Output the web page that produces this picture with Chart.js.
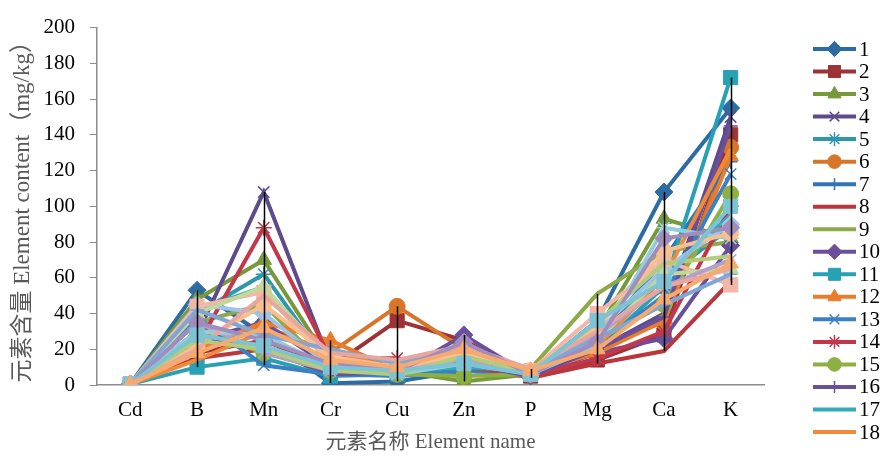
<!DOCTYPE html>
<html>
<head>
<meta charset="utf-8">
<script src="https://cdn.jsdelivr.net/npm/chart.js@4.4.1/dist/chart.umd.min.js"></script>
<style>
  html, body { margin: 0; padding: 0; background: #fff; }
</style>
</head>
<body>
<canvas id="elementChart" width="888" height="456"></canvas>
<script>
const elements = ['Cd', 'B', 'Mn', 'Cr', 'Cu', 'Zn', 'P', 'Mg', 'Ca', 'K'];
const yTicks = [0, 20, 40, 60, 80, 100, 120, 140, 160, 180, 200];

// element content per sample (mg/kg)
const s1  = [0.5, 53, 28, 1, 2, 8, 6, 36, 108, 155];
const s2  = [0.5, 18, 25, 10, 36, 25, 5, 14, 28, 140];
const s3  = [0.5, 48, 70, 12, 8, 2, 6, 30, 93, 82];
const s4  = [0.5, 28, 108, 12, 8, 22, 5, 20, 40, 150];
const s5  = [0.5, 40, 62, 10, 8, 10, 7, 28, 60, 88];
const s6  = [0.5, 22, 33, 18, 44, 20, 6, 22, 35, 133];
const s7  = [0.5, 30, 20, 8, 5, 12, 6, 25, 70, 125];
const s8  = [0.5, 15, 20, 6, 10, 12, 4, 12, 19, 58];
const s9  = [0.5, 35, 45, 8, 8, 15, 9, 51, 75, 80];
const s10 = [0.5, 25, 35, 10, 6, 28, 5, 18, 26, 78];
const s11 = [0.5, 10, 15, 5, 6, 10, 6, 20, 55, 172];
const s12 = [0.5, 20, 35, 25, 8, 12, 7, 18, 36, 128];
const s13 = [0.5, 38, 11, 6, 5, 8, 6, 22, 50, 118];
const s14 = [0.5, 22, 88, 15, 15, 10, 5, 15, 30, 100];
const s15 = [0.5, 30, 18, 8, 6, 5, 6, 25, 45, 107];
const s16 = [0.5, 26, 22, 6, 7, 12, 5, 20, 38, 145];
const s17 = [0.5, 42, 55, 12, 8, 10, 8, 26, 62, 95];
const s18 = [0.5, 14, 30, 20, 8, 18, 7, 22, 60, 132];
// samples past 18 (their legend entries fall outside the picture)
const s19 = [0.5, 45, 40, 10, 8, 15, 7, 30, 65, 90];
const s20 = [0.5, 44, 52, 12, 8, 18, 8, 40, 70, 56];
const s21 = [0.5, 40, 55, 14, 10, 20, 7, 25, 62, 65];
const s22 = [0.5, 35, 18, 8, 7, 15, 6, 28, 55, 70];
const s23 = [0.5, 30, 28, 10, 6, 12, 6, 22, 88, 82];
const s24 = [0.5, 22, 45, 16, 10, 18, 8, 32, 75, 85];
const s25 = [0.5, 42, 28, 20, 12, 20, 8, 26, 45, 62];
const s26 = [0.5, 20, 50, 18, 14, 22, 9, 30, 55, 65];
const s27 = [0.5, 25, 20, 8, 6, 16, 7, 35, 68, 72];
const s28 = [0.5, 35, 25, 12, 8, 24, 6, 24, 82, 88];
const s29 = [0.5, 28, 22, 10, 8, 12, 6, 36, 58, 100];
const s30 = [0.5, 18, 32, 14, 10, 20, 8, 20, 48, 68];

const seriesValues = [s1, s2, s3, s4, s5, s6, s7, s8, s9, s10, s11, s12, s13, s14, s15,
  s16, s17, s18, s19, s20, s21, s22, s23, s24, s25, s26, s27, s28, s29, s30];
const seriesNames = seriesValues.map((s, i) => String(i + 1));
const legendCount = 18;

const seriesColors = [
  '#2D6CA2', '#9E3336', '#77993C', '#5E4B8C', '#2E97AE', '#D8752A',
  '#2F75B5', '#B8363C', '#8DAA48', '#6A4F9A', '#29A1B4', '#EA7C2C',
  '#3A80C4', '#C3374B', '#8DB043', '#6A4F9A', '#35A8BA', '#F08A3A',
  '#9DC3E6', '#F4B6A6', '#C4D79B', '#B1A0C7', '#92CDDC', '#FABF8F',
  '#7FA7D5', '#E8A6A0', '#B2CC7A', '#A08DBE', '#7DC3D6', '#F8A970'
];
// Excel-style marker cycle: diamond, square, triangle, x, star, circle, plus, none, none
const markerCycle = ['rectRot', 'rect', 'triangle', 'crossRot', 'star', 'circle', 'cross', null, null];
const markerSize = { rectRot: 9, rect: 10, triangle: 9, crossRot: 8, star: 8, circle: 8, cross: 7 };

const serif = '"Liberation Serif", "Times New Roman", "Noto Sans CJK SC", serif';

const datasets = seriesValues.map((vals, i) => {
  const style = markerCycle[i % markerCycle.length];
  return {
    label: seriesNames[i],
    data: vals,
    borderColor: seriesColors[i],
    backgroundColor: seriesColors[i],
    borderWidth: 4,
    pointStyle: style || 'circle',
    pointRadius: style ? markerSize[style] : 0,
    pointBorderWidth: style && ['crossRot', 'star', 'cross'].includes(style) ? 1.5 : 1,
    pointHoverRadius: 0,
    tension: 0,
    order: seriesValues.length - i
  };
});

// black high-low line at each element
const hiLowLines = {
  id: 'hiLowLines',
  afterDatasetsDraw(chart) {
    const { ctx, scales: { x, y } } = chart;
    ctx.save();
    ctx.strokeStyle = '#000';
    ctx.lineWidth = 1.5;
    elements.forEach((el, i) => {
      const vals = seriesValues.map(s => s[i]);
      const hi = Math.max(...vals);
      const lo = Math.min(...vals);
      if (hi === lo) return;
      const px = Math.round(x.getPixelForValue(i)) + 0.5;
      ctx.beginPath();
      ctx.moveTo(px, y.getPixelForValue(hi));
      ctx.lineTo(px, y.getPixelForValue(lo));
      ctx.stroke();
    });
    ctx.restore();
  }
};

// single-column legend on the right
const sideLegend = {
  id: 'sideLegend',
  afterDraw(chart) {
    const { ctx, chartArea } = chart;
    const x0 = chartArea.right + 49;
    const step = 22.53;
    ctx.save();
    chart.data.datasets.slice(0, legendCount).forEach((ds, i) => {
      const yy = 49 + i * step;
      ctx.strokeStyle = ds.borderColor;
      ctx.lineWidth = 4;
      ctx.beginPath();
      ctx.moveTo(x0, yy);
      ctx.lineTo(x0 + 43, yy);
      ctx.stroke();
      if (ds.pointRadius > 0) {
        ctx.fillStyle = ds.backgroundColor;
        ctx.strokeStyle = ds.borderColor;
        ctx.lineWidth = ds.pointBorderWidth;
        Chart.helpers.drawPoint(ctx, {
          pointStyle: ds.pointStyle,
          radius: ds.pointRadius * 0.85,
          rotation: 0,
          borderWidth: ds.pointBorderWidth
        }, x0 + 21.5, yy);
      }
      ctx.fillStyle = '#000';
      ctx.font = '21px ' + serif;
      ctx.textAlign = 'left';
      ctx.textBaseline = 'middle';
      ctx.fillText(ds.label, x0 + 46, yy + 1);
    });
    ctx.restore();
  }
};

const ctx = document.getElementById('elementChart').getContext('2d');
new Chart(ctx, {
  type: 'line',
  data: { labels: elements, datasets },
  options: {
    responsive: false,
    animation: false,
    devicePixelRatio: 1,
    layout: { padding: { top: 4, right: 124, left: 0, bottom: 0 } },
    plugins: {
      legend: { display: false },
      tooltip: { enabled: false }
    },
    scales: {
      x: {
        offset: true,
        grid: { display: false, drawTicks: false },
        border: { display: true, color: '#8c8c8c', width: 1.5 },
        ticks: { color: '#000', font: { family: serif, size: 21 }, padding: 13, maxRotation: 0 },
        title: {
          display: true,
          text: '元素名称 Element name',
          color: '#595959',
          font: { family: serif, size: 21 },
          padding: { top: 0, bottom: 1 }
        },
        afterFit: s => { s.height = 71; }
      },
      y: {
        min: 0,
        max: 200,
        afterBuildTicks: s => { s.ticks = yTicks.map(v => ({ value: v })); },
        grid: { drawOnChartArea: false, drawTicks: true, tickLength: 7, color: '#8c8c8c' },
        border: { display: true, color: '#8c8c8c', width: 1.5 },
        ticks: { color: '#000', font: { family: serif, size: 21 }, padding: 15 },
        title: {
          display: true,
          text: '元素含量 Element content（mg/kg）',
          color: '#595959',
          font: { family: serif, size: 23 },
          padding: { top: 9, bottom: 0 }
        },
        afterFit: s => { s.width = 97; }
      }
    }
  },
  plugins: [hiLowLines, sideLegend]
});
</script>
</body>
</html>
